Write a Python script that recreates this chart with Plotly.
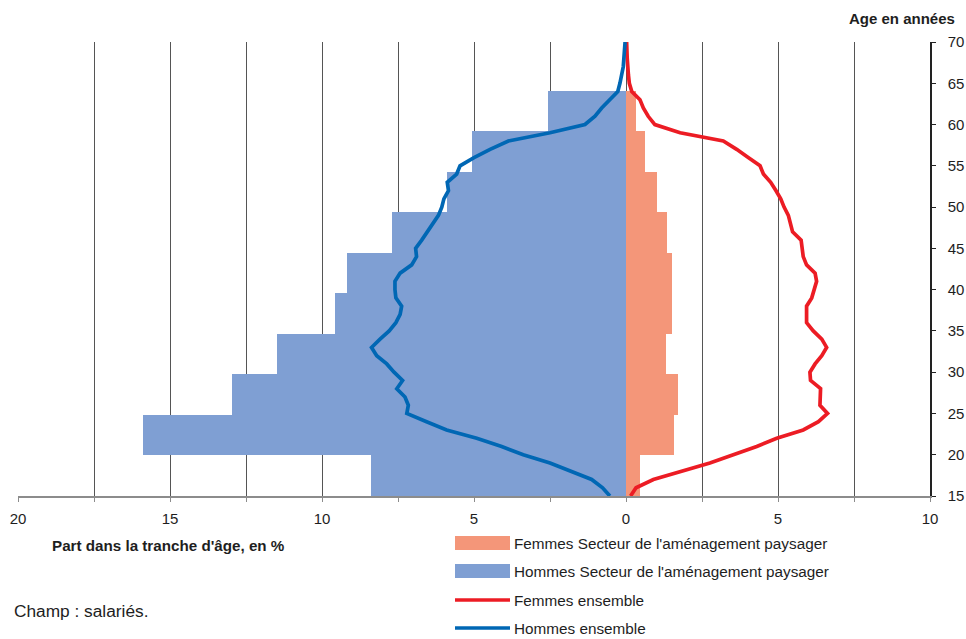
import plotly.graph_objects as go

# ---- data ----
age_bins = ["15-19", "20-24", "25-29", "30-34", "35-39", "40-44", "45-49", "50-54", "55-59", "60-64"]
femmes_secteur = [0.46, 1.58, 1.71, 1.32, 1.51, 1.51, 1.34, 1.01, 0.62, 0.32]
hommes_secteur = [8.39, 15.89, 12.96, 11.48, 9.57, 9.18, 7.70, 5.89, 5.07, 2.57]

ages = list(range(15, 71))
femmes_ensemble = [0.15, 0.33, 0.90, 1.83, 2.76, 3.53, 4.30, 4.96, 5.83, 6.33,
                   6.63, 6.38, 6.40, 6.40, 6.07, 6.05, 6.22, 6.44, 6.60, 6.44,
                   6.16, 5.94, 5.94, 5.94, 6.11, 6.20, 6.27, 6.22, 5.94, 5.83,
                   5.79, 5.76, 5.48, 5.42, 5.34, 5.20, 5.09, 4.93, 4.76, 4.52,
                   4.41, 4.02, 3.64, 3.20, 1.78, 0.95, 0.73, 0.57, 0.46, 0.19,
                   0.11, 0.08, 0.05, 0.04, 0.03, 0.02]
hommes_ensemble = [0.53, 0.77, 1.13, 1.79, 2.50, 3.38, 4.09, 4.91, 5.90, 6.56,
                   7.21, 7.16, 7.27, 7.54, 7.35, 7.63, 7.87, 8.20, 8.37, 8.09,
                   7.79, 7.57, 7.43, 7.38, 7.57, 7.60, 7.60, 7.43, 7.05, 6.89,
                   6.92, 6.72, 6.53, 6.34, 6.17, 6.06, 5.99, 5.84, 5.88, 5.57,
                   5.46, 5.00, 4.47, 3.87, 2.50, 1.35, 1.02, 0.80, 0.55, 0.27,
                   0.20, 0.14, 0.09, 0.07, 0.04, 0.03]

x_tickvals = [-20, -17.5, -15, -12.5, -10, -7.5, -5, -2.5, 0, 2.5, 5, 7.5, 10]
x_ticktext = ["20", "", "15", "", "10", "", "5", "", "0", "", "5", "", "10"]

legend_labels = ["Femmes Secteur de l'aménagement paysager",
                 "Hommes Secteur de l'aménagement paysager",
                 "Femmes ensemble", "Hommes ensemble"]

# ---- style ----
C_F_BAR = "#F49679"
C_H_BAR = "#7F9FD3"
C_F_LINE = "#EC1C24"
C_H_LINE = "#0067B4"
FONT = "Liberation Sans, Arial, sans-serif"
FS = 15
TXT = "#1e1e1e"

fig = go.Figure()
# bars on the (hidden) categorical base axis
fig.add_trace(go.Bar(y=age_bins, x=femmes_secteur, orientation="h", yaxis="y",
                     marker=dict(color=C_F_BAR, line=dict(width=0)), width=1,
                     name=legend_labels[0], showlegend=False))
fig.add_trace(go.Bar(y=age_bins, x=[-v for v in hommes_secteur], orientation="h", yaxis="y",
                     marker=dict(color=C_H_BAR, line=dict(width=0)), width=1,
                     name=legend_labels[1], showlegend=False))
# lines on the overlaying numeric age axis (drawn on top)
fig.add_trace(go.Scatter(x=femmes_ensemble, y=ages, mode="lines", yaxis="y2",
                         line=dict(color=C_F_LINE, width=3.7),
                         name=legend_labels[2], showlegend=False))
fig.add_trace(go.Scatter(x=[-v for v in hommes_ensemble], y=ages, mode="lines", yaxis="y2",
                         line=dict(color=C_H_LINE, width=3.7),
                         name=legend_labels[3], showlegend=False))

W, H = 966, 639
ml, mr, mt, mb = 18, 36, 42, 143
pw, ph = W - ml - mr, H - mt - mb


def px(xp):
    return (xp - ml) / pw


def py(yp):
    return (H - mb - yp) / ph


fig.update_layout(
    width=W, height=H,
    margin=dict(l=ml, r=mr, t=mt, b=mb, pad=0, autoexpand=False),
    paper_bgcolor="white", plot_bgcolor="white",
    barmode="overlay", bargap=0,
    font=dict(family=FONT, size=FS, color=TXT),
    showlegend=False,
    xaxis=dict(range=[-20, 10], tickmode="array", tickvals=x_tickvals, ticktext=x_ticktext,
               showgrid=True, gridcolor="#555", gridwidth=1, zeroline=False,
               showline=True, linecolor="#8c8c8c", linewidth=2, automargin=False,
               ticks="outside", ticklen=4, tickcolor="#8c8c8c", ticklabelstandoff=4,
               tickfont=dict(size=FS, family=FONT, color=TXT)),
    yaxis=dict(type="category", categoryorder="array", categoryarray=age_bins,
               range=[-0.5, 10.7], visible=False, showgrid=False, automargin=False),
    yaxis2=dict(overlaying="y", range=[15, 70], side="right", dtick=5, showgrid=False, zeroline=False,
                showline=True, linecolor="#222", linewidth=1.5, automargin=False,
                ticks="outside", ticklen=4, tickcolor="#222", ticklabelstandoff=9,
                tickfont=dict(size=FS, family=FONT, color=TXT)),
)

annotations = [
    dict(text="<b>Age en années</b>", x=px(957), y=py(19), xanchor="right", yanchor="middle", size=FS),
    dict(text="<b>Part dans la tranche d'âge, en %</b>", x=px(50), y=py(545), xanchor="left", yanchor="middle", size=15.2),
    dict(text="Champ : salariés.", x=px(12), y=py(611), xanchor="left", yanchor="middle", size=17.3),
]
leg_y = [543, 571, 600, 628]
shapes = []
for i, (lab, yy) in enumerate(zip(legend_labels, leg_y)):
    annotations.append(dict(text=lab, x=px(512), y=py(yy), xanchor="left", yanchor="middle", size=15.3))
    if i < 2:
        shapes.append(dict(type="rect", xref="paper", yref="paper",
                           x0=px(455), x1=px(510), y0=py(yy - 7), y1=py(yy + 7),
                           fillcolor=[C_F_BAR, C_H_BAR][i], line=dict(width=0)))
    else:
        shapes.append(dict(type="line", xref="paper", yref="paper",
                           x0=px(455), x1=px(510), y0=py(yy), y1=py(yy),
                           line=dict(color=[C_F_LINE, C_H_LINE][i - 2], width=3.7)))
for a in annotations:
    s = a.pop("size")
    a.update(xref="paper", yref="paper", showarrow=False, font=dict(family=FONT, size=s, color=TXT))
fig.update_layout(annotations=annotations, shapes=shapes)

fig.write_html("out.html", config={"displayModeBar": False},
               post_script="document.body.style.margin='0';document.body.style.padding='0';")
